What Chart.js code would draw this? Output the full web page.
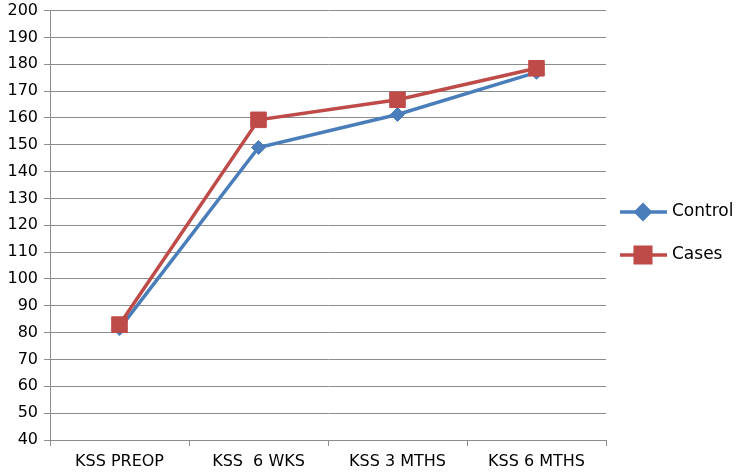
<!DOCTYPE html>
<html>
<head>
<meta charset="utf-8">
<script src="https://cdn.jsdelivr.net/npm/chart.js@4"></script>
<style>
  html, body { margin: 0; padding: 0; background: #fff; overflow: hidden; }
  #wrap { width: 742px; height: 478px; position: relative; top: -5px; }
</style>
</head>
<body>
<div id="wrap"><canvas id="chart"></canvas></div>
<script>
// données
const categories = ['KSS PREOP', 'KSS  6 WKS', 'KSS 3 MTHS', 'KSS 6 MTHS'];
const controlValues = [81.5, 149, 161.3, 177];
const casesValues = [83, 159.3, 166.8, 178.5];
const seriesNames = ['Control', 'Cases'];

const blue = '#4A7EBB';
const red = '#BE4B48';
const gridColor = '#8C8C8C';
const fontFamily = '"DejaVu Sans", sans-serif';

// légende dessinée à la main (ligne + marqueur)
const legendPlugin = {
    id: 'sideLegend',
    afterDraw(chart) {
        const ctx = chart.ctx;
        const items = [
            { label: seriesNames[0], color: blue, style: 'rectRot', r: 7, y: 217 },
            { label: seriesNames[1], color: red, style: 'rect', r: 11, y: 260 }
        ];
        ctx.save();
        items.forEach((it) => {
            ctx.strokeStyle = it.color;
            ctx.lineWidth = 3.5;
            ctx.beginPath();
            ctx.moveTo(620, it.y);
            ctx.lineTo(667, it.y);
            ctx.stroke();
            ctx.fillStyle = it.color;
            Chart.helpers.drawPoint(ctx, { pointStyle: it.style, radius: it.r, borderWidth: 1 }, 643, it.y);
            ctx.fill();
            ctx.fillStyle = '#000';
            ctx.font = '17px ' + fontFamily;
            ctx.textBaseline = 'middle';
            ctx.textAlign = 'left';
            ctx.fillText(it.label, 672, it.y);
        });
        ctx.restore();
    }
};

const data = {
    labels: categories,
    datasets: [
        {
            label: seriesNames[0],
            data: controlValues,
            borderColor: blue,
            backgroundColor: blue,
            borderWidth: 3.5,
            pointStyle: 'rectRot',
            pointRadius: 7,
            pointBorderWidth: 1,
            tension: 0,
            order: 1
        },
        {
            label: seriesNames[1],
            data: casesValues,
            borderColor: red,
            backgroundColor: red,
            borderWidth: 3.5,
            pointStyle: 'rect',
            pointRadius: 11,
            pointBorderWidth: 1,
            tension: 0,
            order: 0
        }
    ]
};

const options = {
    responsive: true,
    maintainAspectRatio: false,
    animation: false,
    layout: { padding: { top: 0, right: 136, left: 0, bottom: 0 } },
    plugins: {
        legend: { display: false },
        tooltip: { enabled: false }
    },
    scales: {
        x: {
            offset: true,
            grid: {
                offset: true,
                drawOnChartArea: false,
                color: gridColor,
                tickLength: 6
            },
            border: { color: gridColor, width: 1 },
            ticks: {
                color: '#000',
                font: { family: fontFamily, size: 16 },
                padding: 6,
                maxRotation: 0
            },
            afterFit: (scale) => { scale.height = 33; }
        },
        y: {
            min: 40,
            max: 200,
            ticks: {
                stepSize: 10,
                color: '#000',
                font: { family: fontFamily, size: 16 },
                padding: 6
            },
            grid: {
                color: gridColor,
                tickLength: 6,
                lineWidth: 1
            },
            border: { color: gridColor, width: 1 },
            afterFit: (scale) => { scale.width = 50; }
        }
    }
};

new Chart(document.getElementById('chart'), {
    type: 'line',
    data: data,
    options: options,
    plugins: [legendPlugin]
});
</script>
</body>
</html>
